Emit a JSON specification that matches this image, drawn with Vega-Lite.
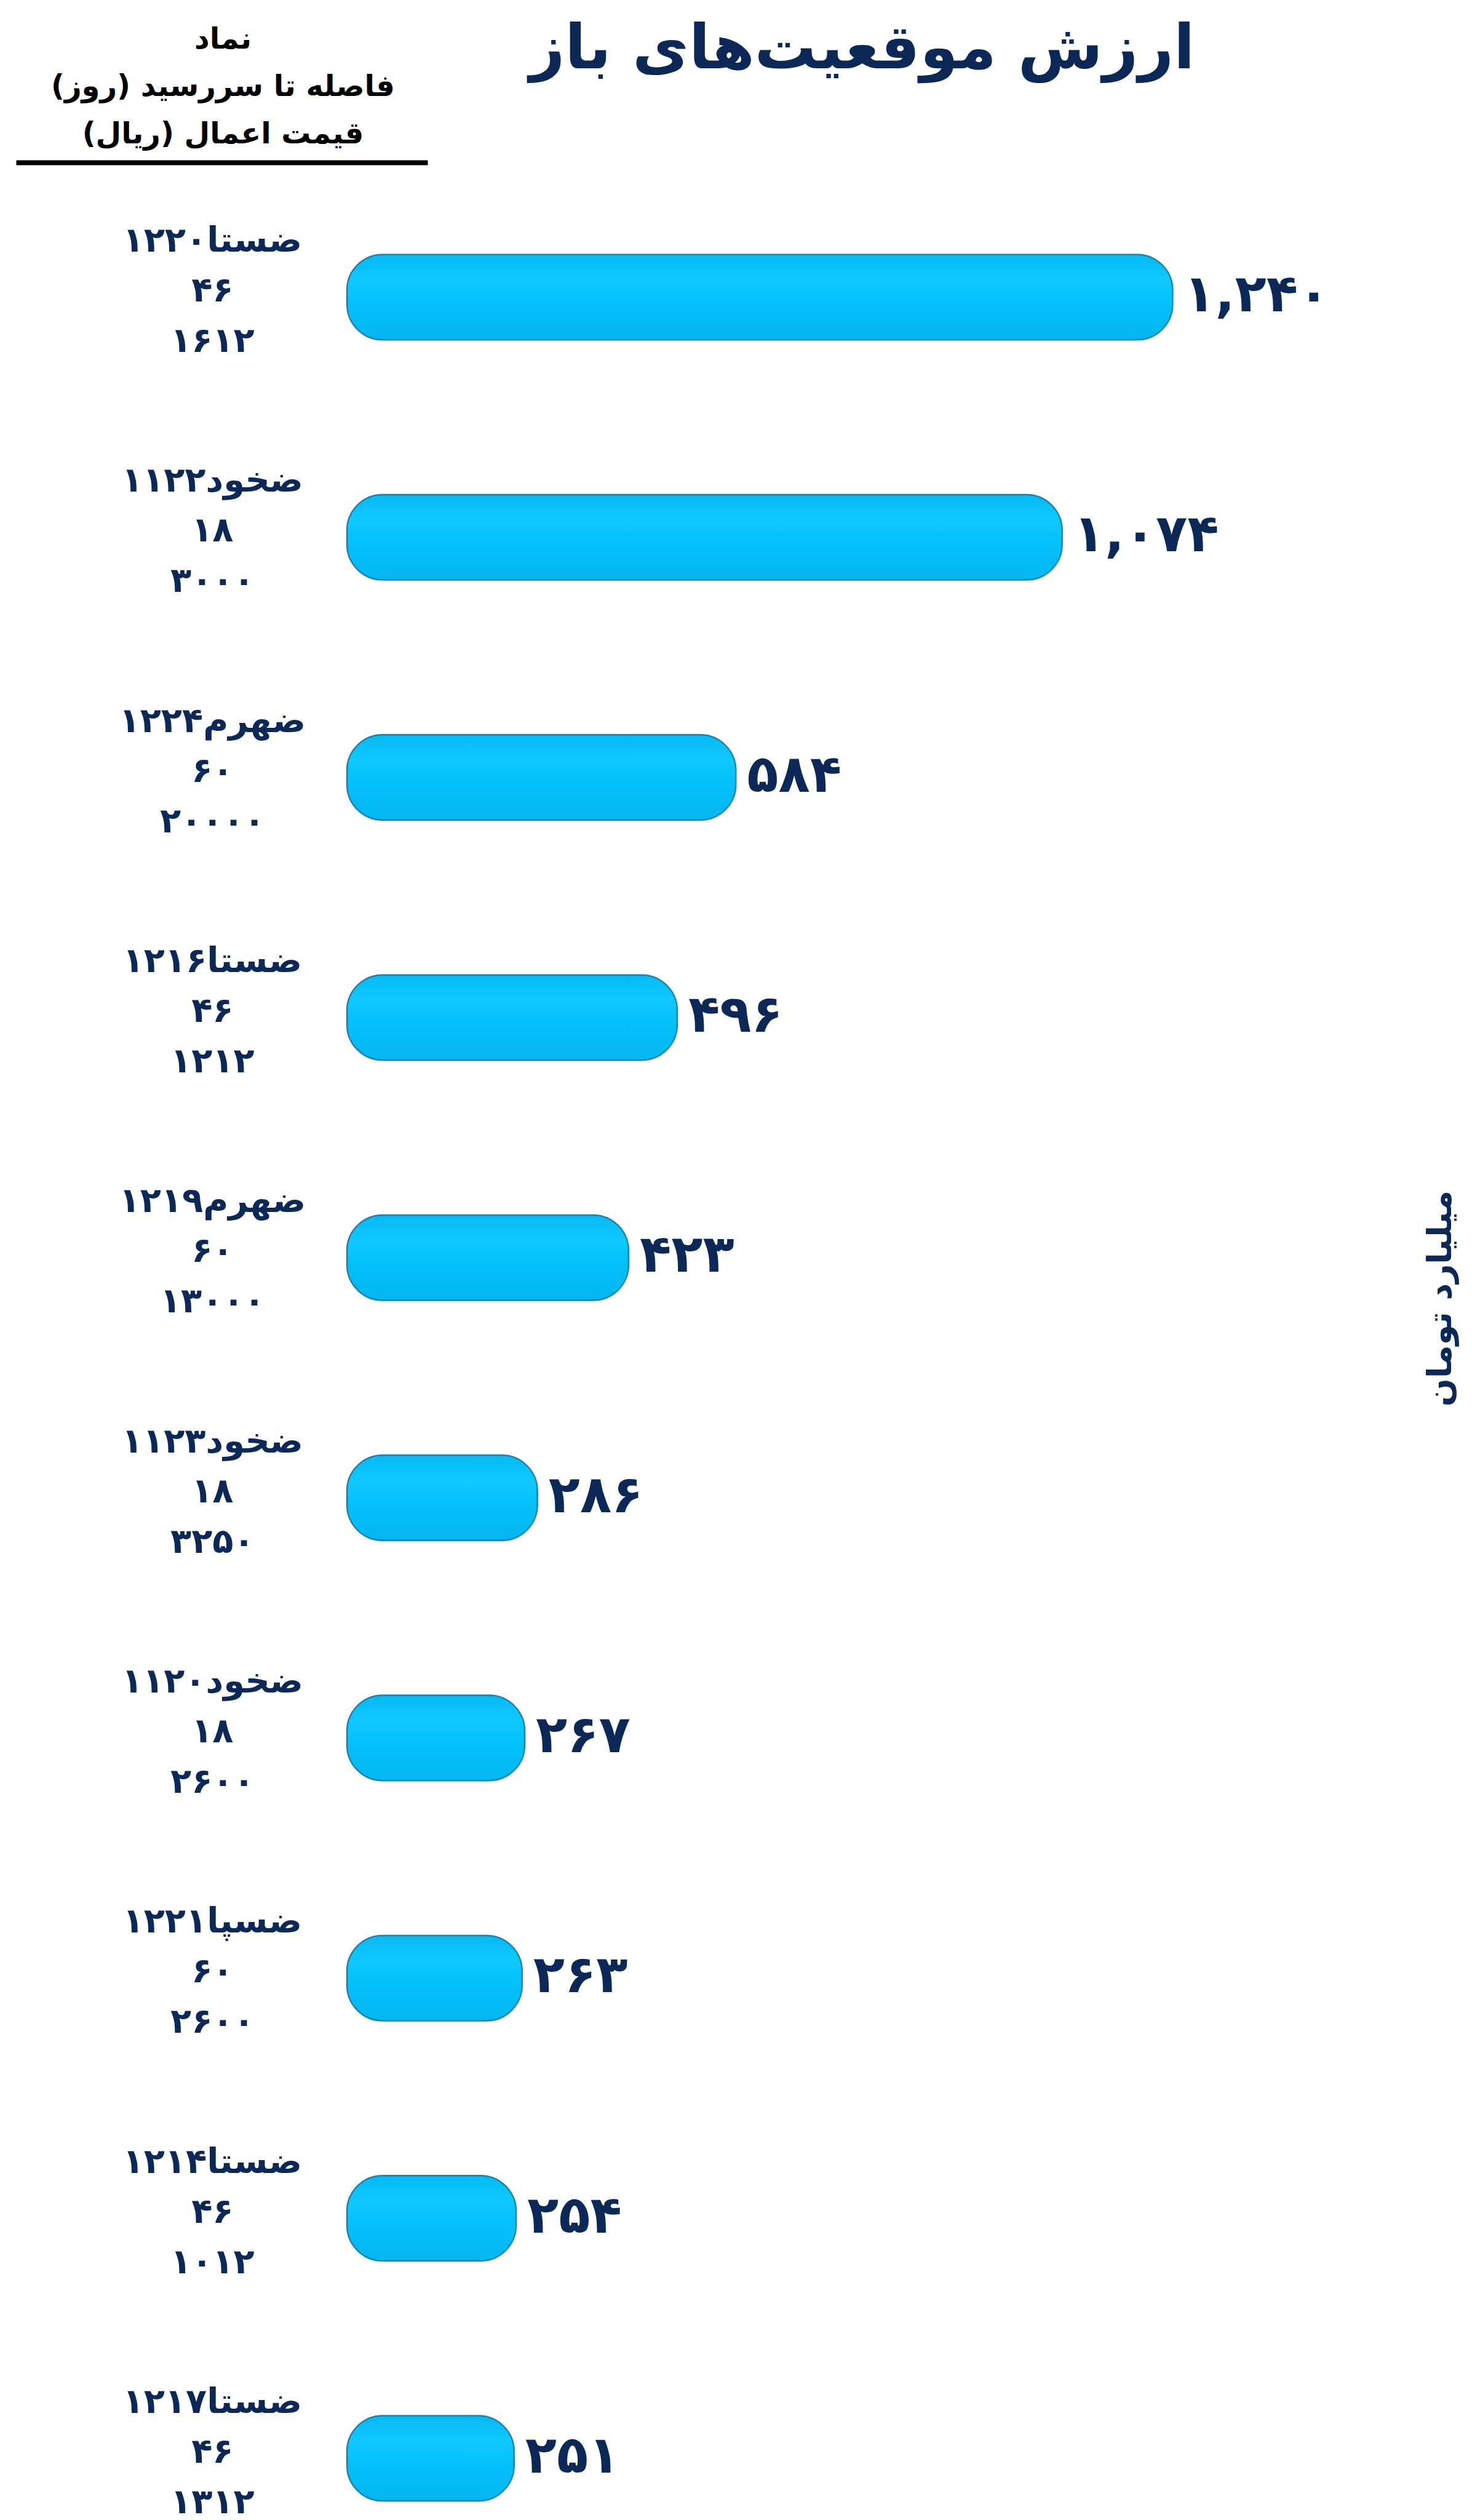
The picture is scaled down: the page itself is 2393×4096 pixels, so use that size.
{
  "$schema": "https://vega.github.io/schema/vega-lite/v6.json",
  "autosize": {"type": "none"},
  "width": 669,
  "height": 3820,
  "padding": {"left": 26, "top": 264, "right": 1698, "bottom": 12},
  "background": "#ffffff",
  "config": {"view": {"stroke": null}, "font": "DejaVu Sans"},
  "data": {
    "values": [
      {"sym": "ضستا۱۲۲۰", "days": "۴۶", "strike": "۱۶۱۲", "value": 1240, "label": "۱,۲۴۰"},
      {"sym": "ضخود۱۱۲۲", "days": "۱۸", "strike": "۳۰۰۰", "value": 1074, "label": "۱,۰۷۴"},
      {"sym": "ضهرم۱۲۲۴", "days": "۶۰", "strike": "۲۰۰۰۰", "value": 584, "label": "۵۸۴"},
      {"sym": "ضستا۱۲۱۶", "days": "۴۶", "strike": "۱۲۱۲", "value": 496, "label": "۴۹۶"},
      {"sym": "ضهرم۱۲۱۹", "days": "۶۰", "strike": "۱۳۰۰۰", "value": 423, "label": "۴۲۳"},
      {"sym": "ضخود۱۱۲۳", "days": "۱۸", "strike": "۳۲۵۰", "value": 286, "label": "۲۸۶"},
      {"sym": "ضخود۱۱۲۰", "days": "۱۸", "strike": "۲۶۰۰", "value": 267, "label": "۲۶۷"},
      {"sym": "ضسپا۱۲۲۱", "days": "۶۰", "strike": "۲۶۰۰", "value": 263, "label": "۲۶۳"},
      {"sym": "ضستا۱۲۱۴", "days": "۴۶", "strike": "۱۰۱۲", "value": 254, "label": "۲۵۴"},
      {"sym": "ضستا۱۲۱۷", "days": "۴۶", "strike": "۱۳۱۲", "value": 251, "label": "۲۵۱"}
    ]
  },
  "resolve": {"axis": {"y": "independent", "x": "independent"}},
  "layer": [
    {
      "mark": {
        "type": "bar",
        "cornerRadius": 58,
        "stroke": "#1b84ad",
        "strokeWidth": 2.5,
        "color": {
          "gradient": "linear", "x1": 0, "y1": 0, "x2": 0, "y2": 1,
          "stops": [
            {"offset": 0, "color": "#06b9f2"},
            {"offset": 0.3, "color": "#10c9ff"},
            {"offset": 0.55, "color": "#05c0fa"},
            {"offset": 1, "color": "#04b6ef"}
          ]
        }
      },
      "encoding": {
        "y": {
          "field": "sym", "type": "nominal", "sort": null,
          "scale": {"paddingInner": 0.645, "paddingOuter": 0.216, "align": 0.888},
          "axis": {
            "orient": "left", "labels": false, "ticks": false, "domain": false, "grid": false,
            "title": ["نماد", "فاصله تا سررسید (روز)‏", "قیمت اعمال (ریال)‏"],
            "titleAngle": 0, "titleX": 336, "titleY": -200,
            "titleAlign": "center", "titleBaseline": "middle",
            "titleLineHeight": 77, "titleFontSize": 48, "titleFontWeight": "bold",
            "titleColor": "#000000", "titleFont": "DejaVu Sans"
          }
        },
        "x": {
          "field": "value", "type": "quantitative",
          "scale": {"domain": [-497, 121], "nice": false, "zero": false},
          "axis": {
            "orient": "top", "domain": true, "domainColor": "#000000", "domainWidth": 8,
            "ticks": false, "labels": false, "grid": false,
            "title": "ارزش موقعیت‌های باز",
            "titleX": 1375, "titleY": -184, "titleAlign": "center", "titleBaseline": "middle",
            "titleFontSize": 100, "titleFontWeight": "bold", "titleColor": "#0b2856",
            "titleFont": "DejaVu Sans"
          }
        }
      }
    },
    {
      "mark": {"type": "text", "align": "left", "baseline": "middle", "dx": 18, "dy": -2,
               "fontSize": 84, "fontWeight": "bold", "color": "#0b2856", "font": "DejaVu Sans"},
      "encoding": {
        "y": {
          "field": "sym", "type": "nominal", "sort": null,
          "axis": {
            "orient": "right", "labels": false, "ticks": false, "domain": false, "grid": false,
            "title": "میلیارد تومان", "titleAngle": 270, "titleX": 1647, "titleY": 1846,
            "titleAlign": "center", "titleBaseline": "middle",
            "titleFontSize": 54, "titleFontWeight": "bold", "titleColor": "#0b2856",
            "titleFont": "DejaVu Sans"
          }
        },
        "x": {"field": "value", "type": "quantitative", "axis": null},
        "text": {"field": "label", "type": "nominal"}
      }
    },
    {
      "mark": {"type": "text", "align": "center", "baseline": "middle", "dy": -91,
               "fontSize": 56, "fontWeight": "bold", "color": "#0b2856", "font": "DejaVu Sans"},
      "encoding": {
        "y": {"field": "sym", "type": "nominal", "sort": null, "axis": null},
        "x": {"datum": -202, "type": "quantitative", "axis": null},
        "text": {"field": "sym", "type": "nominal"}
      }
    },
    {
      "mark": {"type": "text", "align": "center", "baseline": "middle", "dy": -10,
               "fontSize": 56, "fontWeight": "bold", "color": "#0b2856", "font": "DejaVu Sans"},
      "encoding": {
        "y": {"field": "sym", "type": "nominal", "sort": null, "axis": null},
        "x": {"datum": -202, "type": "quantitative", "axis": null},
        "text": {"field": "days", "type": "nominal"}
      }
    },
    {
      "mark": {"type": "text", "align": "center", "baseline": "middle", "dy": 72,
               "fontSize": 56, "fontWeight": "bold", "color": "#0b2856", "font": "DejaVu Sans"},
      "encoding": {
        "y": {"field": "sym", "type": "nominal", "sort": null, "axis": null},
        "x": {"datum": -202, "type": "quantitative", "axis": null},
        "text": {"field": "strike", "type": "nominal"}
      }
    }
  ]
}
